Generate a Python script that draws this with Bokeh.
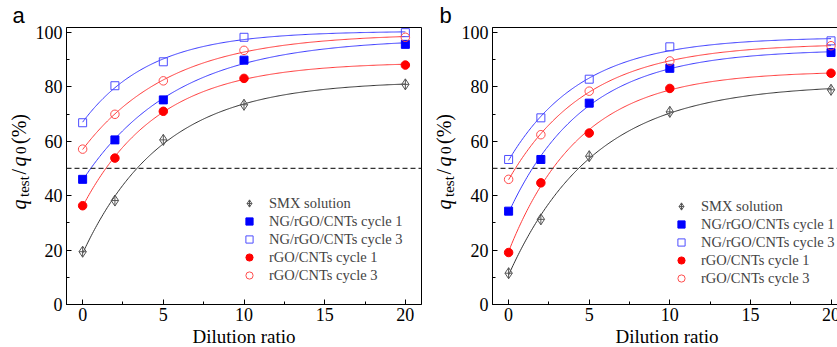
import numpy as np
from bokeh.plotting import figure
from bokeh.layouts import row
from bokeh.models import FixedTicker, Span, Label, Legend
from bokeh.embed import file_html
from bokeh.resources import INLINE

# ---------------- data ----------------
dilution = [0, 2, 5, 10, 20]
series_names = ["SMX solution", "NG/rGO/CNTs cycle 1", "NG/rGO/CNTs cycle 3",
                "rGO/CNTs cycle 1", "rGO/CNTs cycle 3"]

# panel a
a_smx = [19.4, 38.2, 60.5, 73.4, 80.9]
a_ng1 = [46.0, 60.5, 75.2, 89.8, 95.6]
a_ng3 = [66.8, 80.4, 89.2, 98.2, 99.9]
a_rgo1 = [36.3, 53.8, 71.0, 83.1, 88.0]
a_rgo3 = [57.1, 69.9, 82.2, 93.4, 98.2]

# panel b
b_smx = [11.5, 31.3, 54.5, 70.8, 78.9]
b_ng1 = [34.3, 53.3, 74.0, 86.8, 92.6]
b_ng3 = [53.3, 68.6, 82.8, 94.7, 96.9]
b_rgo1 = [19.1, 44.7, 63.0, 79.4, 85.0]
b_rgo3 = [46.0, 62.4, 78.4, 89.5, 95.1]

x_ticks = [0, 5, 10, 15, 20]
x_minor = [2.5, 7.5, 12.5, 17.5]
y_ticks = [0, 20, 40, 60, 80, 100]
y_minor = [10, 30, 50, 70, 90]
threshold = 50
x_title = "Dilution ratio"

FONT = "Liberation Serif"
H = 347
TOP = 25      # top border of the panels
BOTTOM = 45   # bottom border of the panels
FRAME_H = H - TOP - BOTTOM
ASC = 0.891   # ascent of Liberation Serif (em)

# ------------- fitting (exponential rise to max, from the data) -------------
def fit_curve(x, y):
    x = np.asarray(x, float)
    y = np.asarray(y, float)
    best = None
    for t in np.linspace(0.3, 30, 1200):
        A = np.column_stack([np.ones_like(x), -np.exp(-x / t)])
        coef, *_ = np.linalg.lstsq(A, y, rcond=None)
        r = float(np.sum((A @ coef - y) ** 2))
        if best is None or r < best[0]:
            best = (r, coef[0], coef[1], t)
    _, a, b, t = best
    xs = np.linspace(min(x), max(x), 300)
    return xs, a - b * np.exp(-xs / t)


styles = [
    dict(marker="diamond_cross", size=11, line_color="#555555", fill_color=None, curve="#333333"),
    dict(marker="square", size=8, line_color="#0000ff", fill_color="#0000ff", curve="#3a3aff"),
    dict(marker="square", size=8, line_color="#4d4dff", fill_color=None, curve="#3a3aff"),
    dict(marker="circle", size=8.5, line_color="#ff0000", fill_color="#ff0000", curve="#ff3a3a"),
    dict(marker="circle", size=8.5, line_color="#ff4d4d", fill_color=None, curve="#ff3a3a"),
]


def make_label_strip(letter, width, baseline_x, letter_x):
    """Narrow figure holding the panel letter (as its title) and the rotated y-axis title."""
    s = figure(frame_width=width, frame_height=FRAME_H, title=letter,
               min_border_left=0, min_border_right=0,
               min_border_top=TOP, min_border_bottom=BOTTOM,
               x_range=(0, width), y_range=(H - (TOP + FRAME_H), H - TOP),
               x_axis_type=None, y_axis_type=None,
               output_backend="svg", toolbar_location=None,
               background_fill_color="white", border_fill_color="white")
    s.grid.visible = False
    s.outline_line_color = None
    s.title.text_font = "Liberation Sans"
    s.title.text_font_size = "22px"
    s.title.text_font_style = "normal"
    s.title.text_color = "black"
    s.title.align = "left"
    s.title.offset = letter_x
    s.title.standoff = 0
    s.title.vertical_align = "bottom"
    # (text, size px, style, baseline shift toward descender side, advance along the text)
    pieces = [
        ("q", 20, "italic", 0, 12.5),
        ("test", 15, "normal", 3.5, 22.5),
        ("/", 20, "normal", 0, 8.0),
        ("q", 20, "italic", 0, 12.5),
        ("0", 15, "normal", 3.5, 10.0),
        ("(%)", 20, "normal", 0, 30.0),
    ]
    pos = H - 207  # data units here = pixels measured up from the window bottom
    for txt, fs, style, sub, w in pieces:
        top_x = baseline_x + sub - ASC * fs
        s.add_layout(Label(x=top_x, y=pos, text=txt, angle=np.pi / 2,
                           text_align="left", text_baseline="top",
                           text_font=FONT, text_font_size=f"{fs}px", text_font_style=style,
                           text_color="black"))
        pos += w
    return s


def make_panel(data, frame_w, x_end, left_border, right_border, legend_loc):
    p = figure(frame_width=frame_w, frame_height=FRAME_H, title=None, title_location=None,
               min_border_left=left_border, min_border_right=right_border,
               min_border_top=TOP, min_border_bottom=BOTTOM,
               x_range=(-1, x_end), y_range=(0, 101.8),
               output_backend="svg", toolbar_location=None,
               background_fill_color="white", border_fill_color="white")
    p.grid.visible = False
    p.outline_line_color = "black"
    p.outline_line_width = 1
    for ax in (p.xaxis[0], p.yaxis[0]):
        ax.axis_line_color = "black"
        ax.major_tick_in = 5
        ax.major_tick_out = 0
        ax.minor_tick_in = 3
        ax.minor_tick_out = 0
        ax.major_label_text_font = FONT
        ax.major_label_text_font_size = "18px"
        ax.major_label_text_color = "black"
    p.xaxis.ticker = FixedTicker(ticks=x_ticks, minor_ticks=x_minor)
    p.yaxis.ticker = FixedTicker(ticks=y_ticks, minor_ticks=y_minor)
    p.xaxis.major_label_standoff = 3
    p.yaxis.major_label_standoff = 4
    p.xaxis.axis_label = x_title
    p.xaxis.axis_label_text_font = FONT
    p.xaxis.axis_label_text_font_size = "19px"
    p.xaxis.axis_label_text_font_style = "normal"
    p.xaxis.axis_label_text_color = "black"
    p.xaxis.axis_label_standoff = 2

    p.add_layout(Span(location=threshold, dimension="width", line_color="#333333",
                      line_dash="5 3", line_width=1.2))

    items = []
    for ys, st in zip(data, styles):
        xs, yf = fit_curve(dilution, ys)
        p.line(xs, yf, line_color=st["curve"], line_width=1.0)
    for name, ys, st in zip(series_names, data, styles):
        r = p.scatter(dilution, ys, marker=st["marker"], size=st["size"],
                      line_color=st["line_color"], fill_color=st["fill_color"],
                      line_width=1.0)
        items.append((name, [r]))

    legend = Legend(items=items, location=legend_loc, glyph_width=20, glyph_height=18,
                    label_height=18, spacing=0, padding=0, margin=0, label_standoff=10,
                    label_text_font=FONT, label_text_font_size="14.5px",
                    border_line_alpha=0, background_fill_alpha=0)
    p.add_layout(legend)
    return p


sa = make_label_strip("a", 32, 25, 12)
pa = make_panel([a_smx, a_ng1, a_ng3, a_rgo1, a_rgo3], 355, 21.0, 32, 1, (173, 20))
sb = make_label_strip("b", 36, 28.5, 17)
pb = make_panel([b_smx, b_ng1, b_ng3, b_rgo1, b_rgo3], 349, 20.65, 32, 0, (179, 17))

layout = row(sa, pa, sb, pb)
open("out.html", "w").write(file_html(layout, INLINE))
